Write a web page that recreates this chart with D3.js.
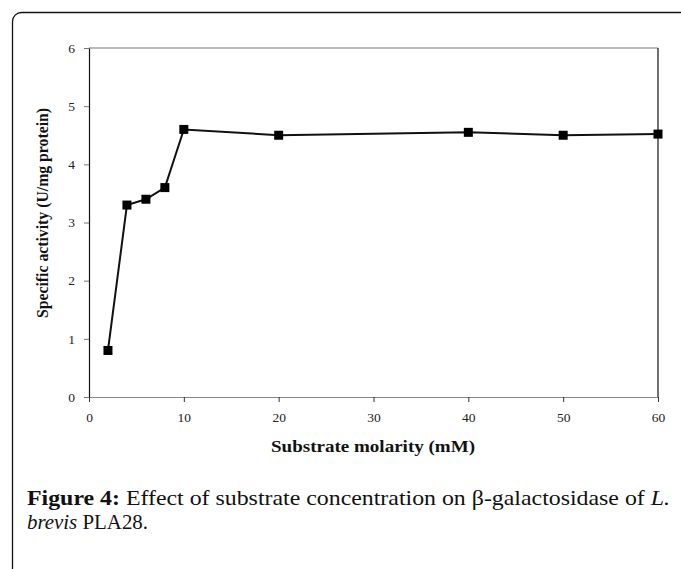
<!DOCTYPE html>
<html>
<head>
<meta charset="utf-8">
<script src="https://cdn.jsdelivr.net/npm/d3@7"></script>
<style>
  body { margin: 0; background: #fff; }
  svg { display: block; }
</style>
</head>
<body>
<div id="chart"></div>
<script>
var molarity = [2, 4, 6, 8, 10, 20, 40, 50, 60];
var activity = [0.8, 3.3, 3.4, 3.6, 4.6, 4.5, 4.55, 4.5, 4.52];
var xTicks = [0, 10, 20, 30, 40, 50, 60];
var yTicks = [0, 1, 2, 3, 4, 5, 6];

var dim = { width: 681, height: 569 };
var plot = { left: 89, right: 658, top: 48, bottom: 397 };

var svg = d3.select("#chart").append("svg")
    .attr("width", dim.width)
    .attr("height", dim.height);

// outer frame, runs off the page right and bottom
svg.append("rect")
    .attr("x", 12.5).attr("y", 12.5)
    .attr("width", 720).attr("height", 620)
    .attr("rx", 9)
    .attr("fill", "none")
    .attr("stroke", "#111")
    .attr("stroke-width", 1.3);

var x = d3.scaleLinear().domain([0, 60]).range([plot.left, plot.right]);
var y = d3.scaleLinear().domain([0, 6]).range([plot.bottom, plot.top]);

// top and right of the plot box
svg.append("line")
    .attr("x1", plot.left).attr("x2", plot.right)
    .attr("y1", plot.top).attr("y2", plot.top)
    .attr("stroke", "#777").attr("stroke-width", 1);
svg.append("line")
    .attr("x1", plot.right).attr("x2", plot.right)
    .attr("y1", plot.top).attr("y2", plot.bottom)
    .attr("stroke", "#111").attr("stroke-width", 1.2);

var xAxis = d3.axisBottom(x).tickValues(xTicks).tickFormat(d3.format("d"))
    .tickSize(5).tickPadding(10).tickSizeOuter(0);
var yAxis = d3.axisLeft(y).tickValues(yTicks).tickFormat(d3.format("d"))
    .tickSize(5).tickPadding(9).tickSizeOuter(0);

var gx = svg.append("g")
    .attr("transform", "translate(0," + plot.bottom + ")")
    .call(xAxis);
gx.select(".domain").attr("stroke", "#888").attr("stroke-width", 1.2);
gx.selectAll(".tick line").attr("stroke", "#333");

var gy = svg.append("g")
    .attr("transform", "translate(" + plot.left + ",0)")
    .call(yAxis);
gy.select(".domain").attr("stroke", "#111").attr("stroke-width", 1.2);
gy.selectAll(".tick line").attr("stroke", "#777");

svg.selectAll(".tick text")
    .attr("font-family", "Liberation Serif, serif")
    .attr("font-size", 13.5)
    .attr("fill", "#222");

var points = molarity.map(function(m, i) { return { m: m, a: activity[i] }; });

var line = d3.line()
    .x(function(d) { return x(d.m); })
    .y(function(d) { return y(d.a); });

svg.append("path")
    .datum(points)
    .attr("d", line)
    .attr("fill", "none")
    .attr("stroke", "#111")
    .attr("stroke-width", 2);

var ms = 9;
svg.selectAll("rect.pt").data(points).enter()
    .append("rect")
    .attr("class", "pt")
    .attr("x", function(d) { return x(d.m) - ms / 2; })
    .attr("y", function(d) { return y(d.a) - ms / 2; })
    .attr("width", ms).attr("height", ms)
    .attr("fill", "#000");

svg.append("text")
    .attr("x", 373)
    .attr("y", 452)
    .attr("text-anchor", "middle")
    .attr("font-family", "Liberation Serif, serif")
    .attr("font-weight", "bold")
    .attr("font-size", 17)
    .attr("textLength", 204)
    .attr("lengthAdjust", "spacingAndGlyphs")
    .attr("fill", "#111")
    .text("Substrate molarity (mM)");

svg.append("text")
    .attr("transform", "translate(48,213) rotate(-90)")
    .attr("text-anchor", "middle")
    .attr("font-family", "Liberation Serif, serif")
    .attr("font-weight", "bold")
    .attr("font-size", 16)
    .attr("textLength", 210)
    .attr("lengthAdjust", "spacingAndGlyphs")
    .attr("fill", "#111")
    .text("Specific activity (U/mg protein)");

var l1 = svg.append("text")
    .attr("x", 27).attr("y", 505)
    .attr("font-family", "Liberation Serif, serif")
    .attr("font-size", 21)
    .attr("textLength", 643)
    .attr("lengthAdjust", "spacingAndGlyphs")
    .attr("fill", "#111");
l1.append("tspan").attr("font-weight", "bold").text("Figure 4:");
l1.append("tspan").text(" Effect of substrate concentration on \u03b2-galactosidase of ");
l1.append("tspan").attr("font-style", "italic").text("L.");

var l2 = svg.append("text")
    .attr("x", 27).attr("y", 529)
    .attr("font-family", "Liberation Serif, serif")
    .attr("font-size", 21)
    .attr("textLength", 121)
    .attr("lengthAdjust", "spacingAndGlyphs")
    .attr("fill", "#111");
l2.append("tspan").attr("font-style", "italic").text("brevis");
l2.append("tspan").text(" PLA28.");
</script>
</body>
</html>
